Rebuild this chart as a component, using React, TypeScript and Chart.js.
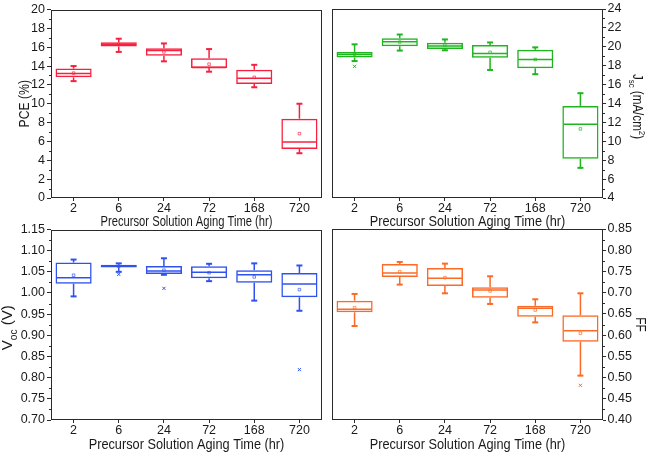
import { useEffect, useRef } from "react";
import { Chart, registerables } from "chart.js";
Chart.register(...registerables);

const categories = ["2", "6", "24", "72", "168", "720"];
const xTitle = "Precursor Solution Aging Time (hr)";

// PCE (%)
const pceMin = [12.4, 15.5, 14.5, 13.4, 11.75, 4.75];
const pceQ1 = [12.8, 16.08, 15.08, 13.78, 12.1, 5.2];
const pceMed = [13.2, 16.3, 15.65, 13.85, 12.7, 5.93];
const pceQ3 = [13.73, 16.53, 15.88, 14.83, 13.6, 8.42];
const pceMax = [14.0, 16.9, 16.4, 15.8, 14.13, 10.0];
const pceMean = [13.25, 16.3, 15.5, 14.2, 12.8, 6.83];
const pceOut: (number | null)[] = [null, null, null, null, null, null];

// Jsc (mA/cm2)
const jscMin = [18.49, 19.6, 19.63, 17.55, 17.1, 7.19];
const jscQ1 = [18.87, 20.05, 19.77, 18.84, 17.73, 8.16];
const jscMed = [19.18, 20.53, 20.08, 19.29, 18.66, 11.8];
const jscQ3 = [19.46, 20.91, 20.43, 20.19, 19.7, 13.74];
const jscMax = [20.26, 21.3, 20.78, 20.46, 19.94, 15.09];
const jscMean = [19.2, 20.5, 20.19, 19.42, 18.66, 11.31];
const jscOut: (number | null)[] = [17.93, null, null, null, null, null];

// Voc (V)
const vocMin = [0.992, 1.05, 1.043, 1.028, 0.982, 0.958];
const vocQ1 = [1.022, 1.06, 1.045, 1.035, 1.024, 0.99];
const vocMed = [1.036, 1.063, 1.052, 1.049, 1.043, 1.021];
const vocQ3 = [1.072, 1.067, 1.064, 1.063, 1.054, 1.047];
const vocMax = [1.079, 1.07, 1.082, 1.069, 1.07, 1.065];
const vocMean = [1.042, 1.063, 1.054, 1.048, 1.038, 1.008];
const vocOut: (number | null)[] = [null, 1.044, 1.011, null, null, 0.819];

// FF
const ffMin = [0.6215, 0.719, 0.6985, 0.6734, 0.63, 0.5045];
const ffQ1 = [0.6537, 0.737, 0.7158, 0.6883, 0.6435, 0.5846];
const ffMed = [0.661, 0.7464, 0.7339, 0.7064, 0.6632, 0.6105];
const ffQ3 = [0.6812, 0.7676, 0.7582, 0.7126, 0.6694, 0.6467];
const ffMax = [0.697, 0.7724, 0.7684, 0.7386, 0.6844, 0.6985];
const ffMean = [0.6647, 0.7496, 0.7354, 0.704, 0.659, 0.6042];
const ffOut: (number | null)[] = [null, null, null, null, null, 0.4817];

const FONT = "'Liberation Sans', Arial, sans-serif";
const AXIS = "#2a2a2a";

type Seg = { t: string; s?: "sub" | "sup" };

interface Panel {
  left: number;
  top: number;
  w: number;
  h: number;
  pad: { left: number; right: number; top: number; bottom: number };
  yWidth: number;
  xHeight: number;
  yPos: "left" | "right";
  yMin: number;
  yMax: number;
  yStep: number;
  decimals: number;
  color: string;
  min: number[];
  q1: number[];
  med: number[];
  q3: number[];
  max: number[];
  mean: number[];
  out: (number | null)[];
  yTitle: Seg[];
  yTitleX: number;
  yTitleDy: number;
  yTitleSize: number;
  yTitleStretch: number;
  xTitleDy: number;
  xTitleStretch: number;
}

const panels: Panel[] = [
  {
    left: 0, top: 0, w: 327, h: 229,
    pad: { left: 0, right: 3, top: 6, bottom: 0 },
    yWidth: 51, xHeight: 31, yPos: "left",
    yMin: 0, yMax: 20, yStep: 2, decimals: 0, color: "#f7203f",
    min: pceMin, q1: pceQ1, med: pceMed, q3: pceQ3, max: pceMax, mean: pceMean, out: pceOut,
    yTitle: [{ t: "PCE (%)" }], yTitleX: 24, yTitleDy: 0, yTitleSize: 14.5, yTitleStretch: 0.84,
    xTitleDy: 22.5, xTitleStretch: 0.8,
  },
  {
    left: 327, top: 0, w: 322, h: 229,
    pad: { left: 4, right: 0, top: 6, bottom: 0 },
    yWidth: 46, xHeight: 31, yPos: "right",
    yMin: 4, yMax: 24, yStep: 2, decimals: 0, color: "#1fb51f",
    min: jscMin, q1: jscQ1, med: jscMed, q3: jscQ3, max: jscMax, mean: jscMean, out: jscOut,
    yTitle: [{ t: "J" }, { t: "sc", s: "sub" }, { t: " (mA/cm" }, { t: "2", s: "sup" }, { t: ")" }],
    yTitleX: 311.5, yTitleDy: 3, yTitleSize: 14.5, yTitleStretch: 0.8,
    xTitleDy: 22.5, xTitleStretch: 0.91,
  },
  {
    left: 0, top: 220, w: 327, h: 234,
    pad: { left: 0, right: 3, top: 9, bottom: 0 },
    yWidth: 51, xHeight: 34, yPos: "left",
    yMin: 0.7, yMax: 1.15, yStep: 0.05, decimals: 2, color: "#2f52ef",
    min: vocMin, q1: vocQ1, med: vocMed, q3: vocQ3, max: vocMax, mean: vocMean, out: vocOut,
    yTitle: [{ t: "V" }, { t: "oc", s: "sub" }, { t: " (V)" }],
    yTitleX: 7, yTitleDy: 3, yTitleSize: 15, yTitleStretch: 1.0,
    xTitleDy: 24, xTitleStretch: 0.91,
  },
  {
    left: 327, top: 220, w: 322, h: 234,
    pad: { left: 4, right: 0, top: 9, bottom: 0 },
    yWidth: 46, xHeight: 34, yPos: "right",
    yMin: 0.4, yMax: 0.85, yStep: 0.05, decimals: 2, color: "#fb6a26",
    min: ffMin, q1: ffQ1, med: ffMed, q3: ffQ3, max: ffMax, mean: ffMean, out: ffOut,
    yTitle: [{ t: "FF" }], yTitleX: 314, yTitleDy: 0, yTitleSize: 14.5, yTitleStretch: 0.82,
    xTitleDy: 24, xTitleStretch: 0.91,
  },
];

function line(ctx: CanvasRenderingContext2D, x1: number, y1: number, x2: number, y2: number) {
  ctx.beginPath();
  ctx.moveTo(x1, y1);
  ctx.lineTo(x2, y2);
  ctx.stroke();
}

const boxPlugin = {
  id: "boxExtras",
  afterDatasetsDraw(chart: any, _args: any, opts: any) {
    const p: Panel = opts.panel;
    const ctx: CanvasRenderingContext2D = chart.ctx;
    const y = chart.scales.y;
    const meta = chart.getDatasetMeta(0);
    ctx.save();
    ctx.strokeStyle = p.color;
    meta.data.forEach((el: any, i: number) => {
      const x = el.x;
      const w = el.width;
      const yMed = y.getPixelForValue(p.med[i]);
      const yQ1 = y.getPixelForValue(p.q1[i]);
      const yQ3 = y.getPixelForValue(p.q3[i]);
      const yLo = y.getPixelForValue(p.min[i]);
      const yHi = y.getPixelForValue(p.max[i]);
      ctx.lineWidth = 1.5;
      line(ctx, x - w / 2 + 1, yMed, x + w / 2 - 1, yMed);
      line(ctx, x, yQ3, x, yHi);
      line(ctx, x, yQ1, x, yLo);
      ctx.lineWidth = 2;
      line(ctx, x - 3, yHi, x + 3, yHi);
      line(ctx, x - 3, yLo, x + 3, yLo);
    });
    ctx.restore();
  },
};

function drawRich(
  ctx: CanvasRenderingContext2D,
  segs: Seg[],
  x: number,
  y: number,
  rot: number,
  size: number,
  stretch: number
) {
  const small = size * 0.68;
  const fontOf = (s?: string) => `${s ? small : size}px ${FONT}`;
  let total = 0;
  segs.forEach((sg) => {
    ctx.font = fontOf(sg.s);
    total += ctx.measureText(sg.t).width;
  });
  ctx.save();
  ctx.translate(x, y);
  ctx.rotate(rot);
  ctx.scale(stretch, 1);
  ctx.textBaseline = "alphabetic";
  ctx.textAlign = "left";
  let cx = -total / 2;
  const base = size * 0.36;
  segs.forEach((sg) => {
    ctx.font = fontOf(sg.s);
    const dy = sg.s === "sub" ? size * 0.3 : sg.s === "sup" ? -size * 0.42 : 0;
    ctx.fillText(sg.t, cx, base + dy);
    cx += ctx.measureText(sg.t).width;
  });
  ctx.restore();
}

const framePlugin = {
  id: "frameTitles",
  afterDraw(chart: any, _args: any, opts: any) {
    const p: Panel = opts.panel;
    const ctx: CanvasRenderingContext2D = chart.ctx;
    const a = chart.chartArea;
    const y = chart.scales.y;
    ctx.save();
    ctx.strokeStyle = AXIS;
    ctx.lineWidth = 1;
    const L = Math.round(a.left) + 0.5;
    const R = Math.round(a.right) - 0.5;
    const T = Math.round(a.top) + 0.5;
    const B = Math.round(a.bottom) - 0.5;
    ctx.strokeRect(L, T, R - L, B - T);
    // minor ticks
    const ticks = y.ticks;
    for (let i = 0; i < ticks.length - 1; i++) {
      const mid = (ticks[i].value + ticks[i + 1].value) / 2;
      const py = Math.round(y.getPixelForValue(mid)) + 0.5;
      if (p.yPos === "left") line(ctx, L, py, L - 2.5, py);
      else line(ctx, R, py, R + 2.5, py);
    }
    // titles
    ctx.fillStyle = "#1a1a1a";
    drawRich(ctx, [{ t: xTitle }], (a.left + a.right) / 2, a.bottom + p.xTitleDy, 0, 14, p.xTitleStretch);
    const cy = (a.top + a.bottom) / 2 + p.yTitleDy;
    drawRich(
      ctx,
      p.yTitle,
      p.yTitleX,
      cy,
      p.yPos === "left" ? -Math.PI / 2 : Math.PI / 2,
      p.yTitleSize,
      p.yTitleStretch
    );
    ctx.restore();
  },
};

function PanelChart({ p }: { p: Panel }) {
  const ref = useRef<HTMLCanvasElement>(null);
  useEffect(() => {
    const boxes = p.q1.map((v, i) => [v, p.q3[i]]);
    const chart = new Chart(ref.current!, {
      type: "bar",
      data: {
        labels: categories,
        datasets: [
          {
            type: "bar",
            data: boxes as any,
            backgroundColor: "rgba(0,0,0,0)",
            borderColor: p.color,
            borderWidth: 1.5,
            borderSkipped: false,
            barPercentage: 0.8,
            categoryPercentage: 1,
          } as any,
          {
            type: "line",
            data: p.mean,
            showLine: false,
            pointStyle: "rect",
            pointRadius: 1.8,
            pointBorderWidth: 1,
            pointBorderColor: p.color + "aa",
            pointBackgroundColor: "rgba(0,0,0,0)",
          } as any,
          {
            type: "line",
            data: p.out,
            showLine: false,
            pointStyle: "crossRot",
            pointRadius: 2.2,
            pointBorderWidth: 1,
            pointBorderColor: p.color,
          } as any,
        ],
      },
      options: {
        responsive: false,
        animation: false,
        events: [],
        layout: { padding: p.pad },
        plugins: {
          legend: { display: false },
          tooltip: { enabled: false },
          boxExtras: { panel: p },
          frameTitles: { panel: p },
        } as any,
        scales: {
          x: {
            offset: true,
            grid: { offset: false, drawOnChartArea: false, tickLength: 3, color: AXIS },
            border: { display: false },
            ticks: { color: "#1a1a1a", padding: 1, font: { family: FONT, size: 12.5, lineHeight: 1 }, maxRotation: 0 },
            afterFit: (s: any) => {
              s.height = p.xHeight;
            },
          },
          y: {
            position: p.yPos,
            min: p.yMin,
            max: p.yMax,
            grid: { drawOnChartArea: false, tickLength: p.yPos === "left" ? 4 : 3, color: AXIS },
            border: { display: false },
            ticks: {
              stepSize: p.yStep,
              color: "#1a1a1a",
              padding: p.yPos === "left" ? 2 : 1.5,
              font: { family: FONT, size: 12.5 },
              callback: (v: any) => Number(v).toFixed(p.decimals),
            },
            afterFit: (s: any) => {
              s.width = p.yWidth;
            },
          },
        },
      } as any,
      plugins: [boxPlugin, framePlugin],
    });
    return () => chart.destroy();
  }, [p]);
  return (
    <div style={{ position: "absolute", left: p.left, top: p.top, width: p.w, height: p.h }}>
      <canvas ref={ref} width={p.w} height={p.h} style={{ width: p.w, height: p.h, display: "block" }} />
    </div>
  );
}

export default function App() {
  return (
    <div style={{ position: "absolute", left: 0, top: 0, width: 649, height: 454, background: "#fff" }}>
      {panels.map((p, i) => (
        <PanelChart key={i} p={p} />
      ))}
    </div>
  );
}
